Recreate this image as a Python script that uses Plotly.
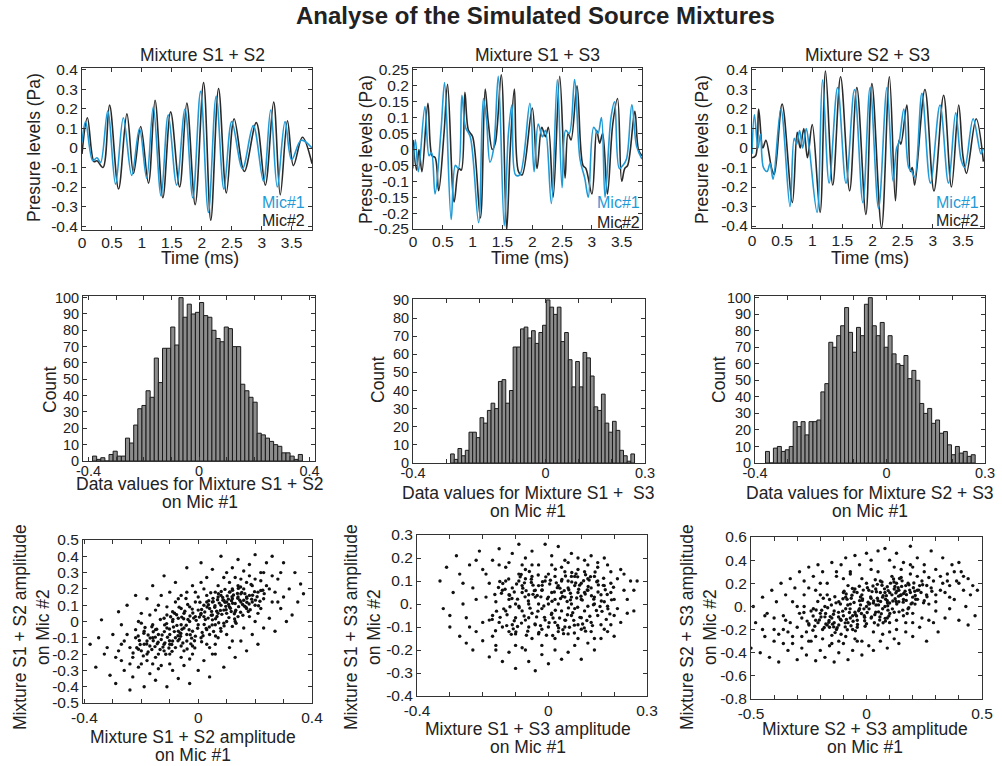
import plotly.graph_objects as go

W, H = 1002, 766
FONT = "Liberation Sans, Arial, sans-serif"
BLUE = "#1f9ad6"
DARK = "#222222"

# ---------------- Data ----------------
main_title = "Analyse of the Simulated Source Mixtures"
mixture_names = ["Mixture S1 + S2", "Mixture S1 + S3", "Mixture S2 + S3"]

# Waveforms (time in ms, pressure in Pa): extrema
t_s12_mic1 = [0.0, 0.06, 0.18, 0.25, 0.31, 0.43, 0.56, 0.69, 0.83, 0.96, 1.08, 1.19, 1.32, 1.44, 1.58, 1.72, 1.85, 1.98, 2.11, 2.24, 2.37, 2.5, 2.68, 2.86, 3.03, 3.15, 3.26, 3.39, 3.5, 3.66, 3.84]
p_s12_mic1 = [0.03, 0.135, -0.065, -0.05, -0.075, 0.19, -0.185, 0.155, -0.14, 0.1, -0.155, 0.21, -0.245, 0.17, -0.19, 0.2, -0.255, 0.29, -0.33, 0.265, -0.21, 0.135, -0.105, 0.115, -0.17, 0.195, -0.2, 0.135, -0.06, 0.04, 0.0]
t_s12_mic2 = [0.0, 0.09, 0.2, 0.25, 0.35, 0.46, 0.61, 0.75, 0.86, 0.98, 1.11, 1.22, 1.35, 1.48, 1.63, 1.75, 1.89, 2.03, 2.15, 2.28, 2.41, 2.54, 2.71, 2.91, 3.06, 3.2, 3.31, 3.43, 3.53, 3.68, 3.84]
p_s12_mic2 = [-0.03, 0.155, -0.07, -0.065, -0.1, 0.22, -0.21, 0.175, -0.13, 0.11, -0.18, 0.245, -0.255, 0.185, -0.2, 0.23, -0.29, 0.335, -0.37, 0.305, -0.23, 0.15, -0.12, 0.13, -0.19, 0.235, -0.24, 0.14, -0.09, 0.055, -0.08]

t_s13_mic1 = [0.0, 0.04, 0.09, 0.2, 0.27, 0.31, 0.37, 0.47, 0.53, 0.64, 0.71, 0.76, 0.82, 0.88, 0.96, 1.1, 1.18, 1.23, 1.29, 1.35, 1.43, 1.53, 1.6, 1.66, 1.72, 1.79, 1.96, 2.03, 2.1, 2.17, 2.22, 2.32, 2.42, 2.5, 2.56, 2.62, 2.71, 2.8, 2.88, 2.94, 3.03, 3.1, 3.16, 3.22, 3.32, 3.38, 3.46, 3.52, 3.58, 3.67, 3.75, 3.84]
p_s13_mic1 = [-0.06, 0.03, -0.07, 0.135, -0.02, -0.01, -0.14, 0.06, 0.21, -0.22, -0.05, -0.06, 0.17, 0.07, 0.04, -0.23, 0.16, 0.1, -0.04, 0.0, 0.23, -0.24, 0.05, 0.14, -0.08, -0.08, 0.145, -0.07, 0.08, 0.04, 0.06, -0.17, 0.22, -0.12, 0.06, 0.05, 0.22, -0.03, -0.09, -0.15, 0.07, 0.05, 0.1, -0.15, 0.1, 0.15, -0.06, -0.05, -0.03, 0.14, 0.01, -0.03]
t_s13_mic2 = [0.0, 0.06, 0.1, 0.15, 0.25, 0.32, 0.37, 0.43, 0.52, 0.58, 0.69, 0.77, 0.81, 0.87, 0.93, 1.0, 1.13, 1.21, 1.26, 1.33, 1.38, 1.48, 1.57, 1.63, 1.7, 1.77, 1.83, 2.0, 2.08, 2.16, 2.22, 2.27, 2.35, 2.46, 2.55, 2.6, 2.65, 2.75, 2.85, 2.9, 3.0, 3.08, 3.13, 3.18, 3.26, 3.35, 3.43, 3.5, 3.55, 3.6, 3.72, 3.78, 3.84]
p_s13_mic2 = [0.03, -0.065, 0.0, -0.07, 0.145, -0.02, -0.025, -0.13, 0.05, 0.205, -0.165, -0.06, -0.065, 0.18, 0.06, 0.04, -0.215, 0.19, 0.09, 0.0, 0.02, 0.235, -0.255, 0.0, 0.19, -0.07, -0.08, 0.13, -0.06, 0.07, 0.04, 0.07, -0.15, 0.23, -0.09, 0.05, 0.03, 0.2, -0.05, -0.06, -0.14, 0.06, 0.02, 0.05, -0.14, 0.08, 0.16, -0.1, -0.06, -0.05, 0.12, 0.0, -0.02]

t_s23_mic1 = [0.0, 0.04, 0.1, 0.14, 0.19, 0.25, 0.3, 0.35, 0.48, 0.63, 0.7, 0.74, 0.79, 0.84, 0.9, 0.95, 1.08, 1.17, 1.28, 1.42, 1.56, 1.7, 1.84, 1.96, 2.1, 2.24, 2.34, 2.4, 2.44, 2.52, 2.6, 2.65, 2.7, 2.82, 2.96, 3.12, 3.26, 3.38, 3.47, 3.53, 3.67, 3.8, 3.84]
p_s23_mic1 = [-0.03, 0.17, 0.0, 0.07, -0.1, -0.12, -0.08, -0.16, 0.2, -0.3, 0.05, 0.02, 0.09, 0.0, 0.1, 0.0, -0.33, 0.35, -0.18, 0.31, -0.18, 0.3, -0.28, 0.31, -0.31, 0.31, -0.17, 0.0, 0.03, 0.2, -0.1, -0.12, -0.15, 0.28, -0.18, 0.22, -0.18, 0.18, -0.06, -0.1, 0.15, -0.03, 0.0]
t_s23_mic2 = [0.0, 0.06, 0.11, 0.18, 0.23, 0.33, 0.37, 0.5, 0.67, 0.75, 0.8, 0.86, 0.92, 1.0, 1.13, 1.22, 1.34, 1.47, 1.62, 1.74, 1.89, 1.99, 2.15, 2.28, 2.38, 2.44, 2.47, 2.57, 2.63, 2.66, 2.7, 2.87, 3.02, 3.18, 3.31, 3.43, 3.5, 3.56, 3.72, 3.84]
p_s23_mic2 = [-0.05, -0.04, 0.2, 0.0, 0.04, -0.11, -0.135, 0.225, -0.28, 0.08, 0.0, 0.1, -0.05, 0.12, -0.33, 0.395, -0.19, 0.365, -0.22, 0.31, -0.34, 0.33, -0.41, 0.365, -0.27, 0.04, 0.02, 0.22, -0.12, -0.1, -0.19, 0.3, -0.22, 0.27, -0.2, 0.22, -0.04, -0.13, 0.15, -0.07]

# Histograms of Mic #1 values: first bin centre, bin width, counts
hist_s12_start, hist_s12_width = -0.378, 0.0149
hist_s12_counts = [3, 1, 2, 0, 4, 6, 3, 3, 14, 11, 22, 32, 34, 43, 39, 63, 48, 69, 69, 82, 71, 100, 88, 96, 90, 91, 97, 89, 88, 80, 75, 73, 82, 81, 70, 70, 47, 43, 39, 36, 17, 16, 14, 12, 10, 9, 5, 5, 3, 1, 4]
hist_s13_start, hist_s13_width = -0.281, 0.0111
hist_s13_counts = [5, 2, 8, 4, 7, 17, 17, 14, 25, 22, 29, 33, 30, 45, 46, 33, 40, 64, 64, 74, 75, 69, 73, 66, 72, 76, 90, 86, 82, 86, 67, 72, 57, 42, 56, 42, 61, 58, 48, 31, 29, 38, 22, 17, 23, 18, 7, 4, 1, 5]
hist_s23_start, hist_s23_width = -0.362, 0.01204
hist_s23_counts = [7, 0, 9, 10, 7, 8, 10, 25, 22, 25, 17, 25, 25, 26, 43, 48, 73, 70, 77, 83, 94, 79, 67, 82, 77, 96, 100, 83, 77, 85, 70, 77, 66, 60, 59, 65, 51, 56, 50, 36, 30, 33, 24, 26, 18, 19, 11, 5, 10, 6, 7, 4, 5]

sc_s12 = [(-0.05,-0.04),(0.02,0.03),(0.08,0.1),(-0.1,-0.08),(0.12,0.14),(-0.02,-0.06),(0.05,0.01),(-0.07,0.02),(0.1,0.05),(0.15,0.12),
(-0.12,-0.14),(-0.15,-0.05),(0.0,0.07),(0.03,-0.05),(0.07,0.15),(-0.04,-0.12),(0.13,0.06),(-0.09,0.0),(0.18,0.16),(-0.18,-0.12),
(0.06,-0.02),(-0.01,0.12),(0.11,0.18),(-0.06,-0.15),(0.2,0.1),(-0.2,-0.18),(0.04,0.08),(-0.03,0.0),(0.09,-0.01),(-0.11,0.04),
(0.16,0.2),(-0.14,-0.2),(0.01,-0.1),(0.14,0.03),(-0.08,-0.1),(0.07,0.05),(-0.16,-0.02),(0.21,0.18),(-0.22,-0.1),(0.0,-0.02),
(0.1,0.12),(-0.05,0.05),(0.12,-0.03),(-0.13,-0.11),(0.17,0.08),(0.03,0.16),(-0.1,-0.2),(0.05,0.12),(-0.02,-0.15),(0.19,0.22),
(-0.19,-0.06),(0.08,-0.06),(-0.06,0.08),(0.15,0.17),(-0.07,-0.06),(0.11,0.09),(-0.17,-0.15),(0.02,0.1),(-0.01,0.03),(0.23,0.14),
(-0.24,-0.16),(0.06,0.18),(-0.04,-0.08),(0.13,0.11),(-0.12,0.02),(0.09,0.13),(-0.08,-0.16),(0.04,-0.08),(0.18,0.03),(-0.15,-0.22),
(0.25,0.2),(-0.23,-0.22),(0.0,0.15),(0.1,0.0),(-0.09,-0.12),(0.14,0.15),(-0.03,0.09),(0.07,-0.1),(-0.2,-0.01),(0.2,0.26),
(-0.11,-0.04),(0.16,0.13),(0.01,0.05),(-0.06,-0.02),(0.12,0.2),(-0.14,-0.08),(0.05,0.04),(-0.01,-0.09),(0.22,0.08),(-0.25,-0.08),
(0.03,0.12),(-0.05,-0.18),(0.08,0.16),(-0.1,-0.14),(0.17,0.24),(0.13,0.0),(-0.18,-0.24),(0.26,0.12),(-0.16,-0.1),(0.09,0.07),
(-0.38,-0.14),(-0.36,-0.28),(-0.34,0.01),(-0.33,-0.2),(-0.31,-0.33),(-0.3,-0.08),(-0.29,-0.38),(-0.28,0.06),(-0.27,-0.24),(-0.26,-0.3),
(-0.25,0.1),(-0.24,-0.42),(-0.23,-0.34),(-0.22,0.16),(-0.21,-0.28),(-0.2,0.05),(-0.19,-0.4),(-0.18,0.14),(-0.17,-0.32),(-0.16,0.22),
(-0.15,-0.36),(-0.14,0.1),(-0.13,-0.27),(-0.12,0.28),(-0.11,-0.4),(-0.1,0.18),(-0.09,-0.3),(-0.08,0.24),(-0.07,-0.35),(-0.06,0.16),
(-0.05,-0.27),(-0.04,0.33),(-0.03,-0.38),(-0.02,0.22),(0.0,-0.3),(0.01,0.36),(0.02,-0.24),(0.03,0.27),(0.04,-0.34),(0.05,0.32),
(0.06,-0.2),(0.08,0.4),(0.09,-0.28),(0.1,0.3),(0.11,-0.16),(0.12,0.33),(0.13,-0.22),(0.14,0.38),(0.15,-0.12),(0.16,0.31),
(0.17,-0.18),(0.18,0.35),(0.19,-0.08),(0.2,0.41),(0.21,-0.14),(0.22,0.3),(0.23,-0.04),(0.24,0.36),(0.25,0.02),(0.26,0.4),
(0.27,-0.06),(0.28,0.26),(0.29,0.08),(0.3,0.36),(0.31,0.0),(0.32,0.2),(0.33,0.04),(0.34,0.3),(0.35,0.12),(0.36,0.23),
(0.37,0.17),(-0.35,-0.1),(-0.32,-0.16),(0.29,0.3),(-0.27,-0.02),(0.3,0.15),(-0.21,-0.17),(0.24,0.22),(-0.28,-0.18),(0.27,0.18),
(-0.2,-0.26),(0.19,0.12),(-0.26,-0.12),(0.22,0.25),(-0.17,0.04),(0.16,-0.04),(-0.13,0.16),(0.12,-0.12),(-0.21,0.0),(0.2,0.0),
(-0.08,0.12),(0.06,-0.14),(-0.14,-0.29),(0.15,0.26),(-0.11,0.09),(0.1,-0.08),(-0.19,-0.14),(0.18,0.28),(-0.02,-0.2),(0.02,0.2),
(-0.24,-0.26),(0.23,0.3),(-0.07,0.14),(0.04,-0.16),(-0.16,-0.26),(0.17,0.15),(-0.12,-0.18),(0.11,0.24),(-0.03,-0.23),(0.01,0.24),
(-0.09,0.06),(0.07,0.22),(-0.22,-0.05),(0.21,0.05),(-0.04,0.18),(0.05,-0.2),(-0.15,0.07),(0.14,0.22),(-0.18,-0.2),(0.26,0.28),
(-0.29,-0.22),(0.28,0.12),(-0.1,-0.26),(0.09,0.27),(-0.06,-0.22),(0.03,-0.14),(-0.01,0.18),(0.13,0.27),(-0.27,-0.14),(0.22,0.19),
(-0.032,-0.051),(0.047,0.062),(0.113,0.081),(-0.087,-0.034),(0.021,-0.018),(0.163,0.094),(-0.141,-0.127),(0.074,0.113),(-0.058,0.027),(0.138,0.172),
(-0.176,-0.083),(0.009,0.041),(0.091,-0.027),(-0.119,-0.062),(0.052,0.142),(-0.023,-0.102),(0.188,0.137),(-0.204,-0.141),(0.066,0.031),(-0.071,-0.118),
(0.127,0.048),(-0.047,0.063),(0.031,0.089),(0.102,0.157),(-0.133,0.012),(0.176,0.061),(-0.092,-0.183),(0.014,-0.067),(0.149,0.212),(-0.163,-0.172),
(0.083,0.044),(-0.016,0.021),(0.117,0.128),(-0.108,-0.097),(0.039,-0.034),(0.198,0.183),(-0.187,-0.037),(0.058,0.087),(-0.064,-0.071),(0.142,0.091),
(-0.037,0.104),(0.094,0.197),(-0.152,-0.154),(0.006,0.118),(0.171,0.143),(-0.211,-0.089),(0.079,-0.042),(-0.083,0.051),(0.128,0.016),(-0.026,-0.137),
(0.217,0.124),(-0.124,-0.157),(0.044,0.176),(-0.002,-0.041),(0.157,0.038),(-0.169,-0.101),(0.107,0.104),(-0.054,-0.132),(0.068,0.133),(-0.097,0.029),
(0.186,0.227),(-0.229,-0.193),(0.025,0.012),(0.133,-0.011),(-0.146,-0.048),(0.071,0.171),(-0.012,-0.162),(0.098,0.072),(-0.075,-0.024),(0.232,0.171),
(-0.193,-0.211),(0.054,-0.061),(-0.043,0.141),(0.121,0.192),(-0.114,-0.201),(0.179,0.107),(-0.067,0.088),(0.012,-0.124),(0.146,0.131),(-0.158,-0.063),
(0.086,0.148),(-0.029,0.034),(0.061,-0.089),(-0.181,-0.138),(0.207,0.152),(-0.101,-0.046),(0.037,0.127),(0.116,0.061),(-0.062,-0.091),(0.153,0.178),
(0.035,0.021),(-0.061,-0.073),(0.094,0.118),(-0.118,-0.021),(0.156,0.104),(-0.019,0.052),(0.072,-0.008),(-0.093,-0.141),(0.124,0.163),(-0.151,-0.096),
(0.012,0.074),(0.183,0.072),(-0.042,-0.023),(0.059,0.097),(-0.134,-0.172),(0.108,0.024),(-0.076,0.041),(0.141,0.203),(-0.207,-0.117),(0.028,-0.043),
(0.087,0.131),(-0.028,-0.081),(0.201,0.131),(-0.101,-0.118),(0.046,0.038),(-0.163,-0.032),(0.119,0.152),(-0.007,0.007),(0.164,0.171),(-0.084,-0.062),
(0.065,0.063),(-0.051,0.017),(0.132,0.069),(-0.176,-0.187),(0.017,-0.087),(0.097,0.093),(-0.111,-0.013),(0.227,0.192),(-0.039,-0.169),(0.053,0.122),
(-0.144,-0.137),(0.171,0.118),(0.004,0.027),(-0.066,-0.108),(0.112,0.182),(-0.191,-0.072),(0.078,0.068),(-0.021,0.076),(0.149,0.057),(-0.127,-0.083),
(0.036,0.103),(-0.057,-0.048),(0.191,0.161),(-0.089,0.012),(0.121,0.112),(-0.216,-0.161),(0.061,0.017),(-0.013,-0.118),(0.139,0.142),(-0.103,-0.163),
(0.081,0.184),(-0.036,0.012),(0.168,0.087),(-0.158,-0.118),(0.023,0.058),(0.106,0.137),(-0.071,-0.087),(0.212,0.097),(-0.117,-0.131),(0.049,-0.021)]

sc_s13 = [(0.0,0.0),(0.05,0.03),(-0.05,-0.04),(0.1,0.02),(-0.08,0.05),(0.02,-0.08),(0.07,-0.05),(-0.03,0.08),(0.12,0.06),(-0.1,-0.06),
(0.04,0.1),(-0.06,-0.1),(0.09,-0.09),(-0.12,0.02),(0.14,0.0),(0.01,0.05),(-0.02,-0.02),(0.06,0.07),(-0.07,0.11),(0.11,-0.03),
(0.03,-0.12),(-0.09,-0.01),(0.08,0.12),(-0.04,0.03),(0.13,-0.08),(-0.11,-0.09),(0.0,0.13),(0.16,0.04),(-0.14,0.06),(0.05,-0.1),
(-0.01,-0.07),(0.1,0.09),(-0.06,0.0),(0.02,0.02),(0.15,-0.05),(-0.13,-0.03),(0.07,0.0),(-0.03,-0.13),(0.12,0.11),(-0.08,0.08),
(0.04,-0.03),(-0.05,0.12),(0.09,0.05),(-0.1,0.0),(0.17,0.08),(-0.02,0.06),(0.06,-0.13),(-0.07,-0.07),(0.11,0.14),(0.01,-0.04),
(-0.15,-0.08),(0.14,0.03),(-0.04,-0.09),(0.08,-0.02),(-0.09,0.1),(0.03,0.08),(0.18,-0.01),(-0.12,-0.12),(0.0,-0.1),(0.05,0.14),
(-0.06,0.04),(0.13,0.07),(-0.16,0.01),(0.1,-0.11),(-0.01,0.1),(0.07,0.03),(-0.11,0.07),(0.02,-0.15),(0.19,0.05),(-0.03,0.0),
(0.06,0.1),(-0.08,-0.03),(0.15,0.1),(-0.13,0.1),(0.04,0.05),(-0.05,-0.15),(0.12,-0.01),(0.09,0.15),(-0.02,-0.11),(0.2,0.02),
(-0.17,-0.05),(0.16,-0.09),(-0.07,0.15),(0.03,0.0),(0.11,0.05),(-0.1,-0.13),(0.08,0.08),(-0.04,0.06),(0.14,0.12),(0.0,0.03),
(-0.14,-0.1),(0.05,-0.07),(-0.09,0.13),(0.17,0.01),(0.02,0.12),(-0.06,-0.06),(0.1,-0.06),(-0.12,0.04),(0.07,0.12),(0.13,-0.12),
(-0.33,0.1),(-0.32,-0.02),(-0.31,0.16),(-0.3,-0.1),(-0.29,0.05),(-0.28,0.21),(-0.27,-0.14),(-0.26,0.09),(-0.25,-0.06),(-0.24,0.17),
(-0.23,-0.2),(-0.22,0.02),(-0.21,0.23),(-0.2,-0.16),(-0.19,0.13),(-0.18,-0.23),(-0.17,0.19),(-0.16,-0.18),(-0.15,0.24),(-0.14,-0.25),
(-0.13,0.16),(-0.12,-0.21),(-0.11,0.22),(-0.1,-0.28),(-0.09,0.26),(-0.08,-0.19),(-0.07,0.2),(-0.06,-0.25),(-0.05,0.23),(-0.04,-0.29),
(-0.03,0.17),(-0.02,-0.22),(-0.01,0.26),(0.0,-0.26),(0.01,0.21),(0.02,-0.2),(0.03,0.25),(0.04,-0.24),(0.05,0.19),(0.06,-0.21),
(0.07,0.22),(0.08,-0.18),(0.09,0.2),(0.1,-0.24),(0.11,0.19),(0.12,-0.17),(0.13,0.21),(0.14,-0.2),(0.15,0.18),(0.16,-0.15),
(0.17,0.2),(0.18,-0.12),(0.19,0.14),(0.2,-0.14),(0.21,0.11),(0.22,-0.08),(0.23,0.13),(0.24,-0.04),(0.25,0.1),(0.26,-0.03),
(0.27,0.1),(0.26,0.06),(0.24,0.02),(-0.3,-0.05),(-0.27,0.13),(-0.25,-0.17),(-0.22,0.19),(-0.2,-0.08),(-0.18,0.09),(-0.24,-0.1),
(0.22,0.15),(0.2,-0.05),(0.18,0.17),(0.19,-0.09),(0.23,0.06),(-0.2,0.15),(-0.17,-0.14),(-0.19,0.03),(-0.15,0.17),(-0.16,-0.2),
(-0.26,0.0),(-0.23,0.07),(0.21,-0.02),(0.17,-0.11),(0.15,0.16),(-0.12,0.18),(-0.1,-0.18),(0.12,0.17),(-0.07,-0.2),(0.06,0.18),
(-0.02,-0.18),(0.01,0.17),(0.09,-0.15),(-0.05,0.17),(-0.22,-0.12),(-0.18,-0.07),(0.14,-0.15),(-0.08,0.17),(0.04,0.16),(0.19,0.09),
(-0.023,0.031),(0.061,-0.017),(0.112,0.043),(-0.074,-0.052),(0.027,0.071),(-0.118,0.038),(0.146,-0.028),(0.083,0.091),(-0.041,-0.087),(0.009,-0.046),
(0.173,0.062),(-0.097,0.087),(0.052,-0.071),(-0.136,-0.021),(0.124,0.104),(-0.008,0.118),(0.096,-0.058),(-0.061,0.013),(0.037,0.024),(-0.152,0.072),
(0.161,0.013),(-0.029,-0.124),(0.071,0.137),(-0.107,-0.108),(0.018,0.052),(0.134,-0.094),(-0.083,0.128),(0.044,-0.112),(-0.014,-0.009),(0.187,-0.043),
(-0.171,-0.067),(0.103,0.017),(-0.052,0.094),(0.067,0.047),(-0.121,0.109),(0.152,0.083),(-0.036,-0.056),(0.028,-0.093),(0.117,-0.072),(-0.089,-0.016),
(0.004,0.087),(0.079,-0.126),(-0.143,0.047),(0.168,0.112),(-0.067,-0.136),(0.041,0.107),(-0.019,0.061),(0.131,0.036),(-0.104,-0.073),(0.089,0.118),
(-0.047,0.042),(0.013,-0.137),(0.198,0.073),(-0.161,-0.116),(0.057,0.011),(-0.078,0.069),(0.109,-0.104),(-0.003,0.023),(0.142,0.139),(-0.126,-0.047),
(0.034,-0.061),(-0.058,0.141),(0.092,0.064),(-0.094,-0.098),(0.176,-0.067),(0.021,0.151),(-0.032,-0.031),(0.064,-0.101),(-0.148,0.098),(0.121,0.076),
(-0.071,0.031),(0.048,0.058),(-0.113,-0.132),(0.157,-0.011),(0.002,-0.081),(0.086,0.026),(-0.132,0.064),(0.113,0.127),(-0.018,0.097),(0.074,-0.038),
(0.011,0.012),(-0.043,0.058),(0.077,-0.071),(0.138,0.021),(-0.104,0.052),(0.052,0.122),(-0.012,-0.058),(0.095,0.082),(-0.082,-0.083),(0.163,-0.032),
(-0.139,0.089),(0.031,-0.104),(0.118,0.061),(-0.063,-0.118),(0.006,0.103),(0.147,0.097),(-0.117,-0.012),(0.067,0.018),(-0.031,0.126),(0.104,-0.087),
(-0.158,-0.031),(0.043,0.033),(0.179,0.041),(-0.073,0.092),(0.021,-0.027),(0.126,-0.053),(-0.094,0.021),(0.084,0.131),(-0.024,-0.094),(0.151,0.052),
(-0.127,-0.094),(0.058,-0.047),(-0.047,0.082),(0.099,0.034),(-0.006,-0.136),(0.192,0.018),(-0.086,0.118),(0.035,0.069),(0.113,-0.118),(-0.056,-0.018),
(0.071,0.096),(-0.111,0.024),(0.167,0.081),(0.014,-0.061),(-0.034,0.037),(0.128,0.119),(-0.147,-0.058),(0.089,-0.014),(-0.068,0.058),(0.046,-0.129),
(0.137,-0.003),(-0.019,0.081),(0.062,0.062),(-0.099,-0.121),(0.181,-0.021),(-0.052,0.108),(0.024,0.092),(0.107,0.101),(-0.163,0.041),(0.079,-0.092)]

sc_s23 = [(0.0,0.0),(0.05,0.05),(-0.05,-0.05),(0.1,0.03),(-0.1,-0.08),(0.15,0.1),(-0.15,-0.1),(0.02,-0.1),(-0.02,0.1),(0.08,0.12),
(-0.08,-0.14),(0.2,0.08),(-0.2,-0.06),(0.12,-0.05),(-0.12,0.04),(0.04,0.15),(-0.04,-0.18),(0.17,0.18),(-0.17,-0.16),(0.07,-0.02),
(-0.07,0.02),(0.22,0.14),(-0.22,-0.12),(0.0,-0.15),(0.01,0.14),(0.13,0.2),(-0.13,-0.2),(0.09,-0.1),(-0.09,0.08),(0.25,0.05),
(-0.25,-0.15),(0.03,0.03),(-0.03,-0.02),(0.18,-0.02),(-0.18,0.0),(0.11,0.1),(-0.11,-0.12),(0.06,0.22),(-0.06,-0.2),(0.14,0.04),
(-0.14,-0.04),(0.28,0.16),(-0.28,-0.1),(0.09,0.17),(-0.09,-0.02),(0.19,0.12),(-0.19,-0.2),(0.02,0.07),(-0.01,-0.08),(0.16,-0.08),
(-0.16,0.06),(0.24,0.22),(-0.24,-0.04),(0.05,-0.16),(-0.05,0.15),(0.12,0.15),(-0.12,-0.16),(0.3,0.1),(-0.3,-0.18),(0.07,0.08),
(-0.07,-0.1),(0.21,0.02),(-0.21,-0.14),(0.0,0.2),(0.04,-0.05),(0.15,0.25),(-0.15,-0.25),(0.1,-0.14),(-0.1,0.12),(0.26,0.1),
(-0.26,-0.22),(0.08,0.0),(-0.03,0.05),(0.18,0.2),(-0.18,-0.09),(0.13,-0.12),(-0.08,0.18),(0.33,0.2),(-0.33,-0.14),(0.06,0.12),
(-0.06,-0.08),(0.2,-0.06),(-0.2,0.1),(0.11,0.26),(-0.11,-0.24),(0.23,0.18),(-0.23,-0.02),(0.03,-0.22),(-0.02,0.24),(0.16,0.06),
(-0.14,-0.14),(0.27,0.25),(-0.27,0.0),(0.09,0.05),(-0.04,-0.12),(0.14,0.14),(-0.16,-0.18),(0.19,0.28),(-0.09,-0.26),(0.01,0.02),
(-0.55,-0.3),(-0.53,-0.04),(-0.52,-0.22),(-0.5,-0.36),(-0.49,0.0),(-0.48,-0.14),(-0.46,-0.4),(-0.45,0.08),(-0.44,-0.26),(-0.43,-0.06),
(-0.42,-0.44),(-0.41,0.14),(-0.4,-0.3),(-0.39,0.04),(-0.38,-0.48),(-0.37,0.2),(-0.36,-0.2),(-0.35,0.1),(-0.34,-0.38),(-0.33,0.24),
(-0.32,-0.32),(-0.31,0.16),(-0.3,-0.46),(-0.29,0.3),(-0.28,-0.36),(-0.27,0.22),(-0.26,-0.42),(-0.25,0.34),(-0.24,-0.3),(-0.23,0.26),
(-0.22,-0.47),(-0.21,0.36),(-0.2,-0.38),(-0.19,0.3),(-0.18,-0.44),(-0.17,0.2),(-0.16,-0.34),(-0.15,0.38),(-0.14,-0.48),(-0.13,0.3),
(-0.12,-0.4),(-0.11,0.36),(-0.1,-0.32),(-0.09,0.42),(-0.08,-0.46),(-0.07,0.28),(-0.06,-0.38),(-0.05,0.44),(-0.04,-0.3),(-0.03,0.36),
(-0.02,-0.42),(0.0,0.46),(0.01,-0.34),(0.02,0.4),(0.03,-0.38),(0.05,0.48),(0.06,-0.3),(0.08,0.5),(0.09,-0.36),(0.1,0.4),
(0.12,-0.28),(0.13,0.46),(0.14,-0.32),(0.16,0.38),(0.17,-0.22),(0.19,0.52),(0.2,-0.26),(0.22,0.42),(0.23,-0.18),(0.25,0.36),
(0.26,-0.3),(0.28,0.48),(0.29,-0.14),(0.3,0.32),(0.31,-0.22),(0.33,0.42),(0.34,-0.1),(0.35,0.28),(0.36,-0.02),(0.37,0.36),
(0.38,0.06),(0.39,0.22),(0.4,-0.12),(0.41,0.3),(0.42,0.14),(0.43,0.0),(0.44,0.24),(0.45,0.1),(0.46,0.18),(0.47,-0.08),
(0.48,0.14),(0.44,-0.16),(0.4,0.38),(0.34,0.12),(0.3,-0.04),(-0.45,-0.2),(-0.4,-0.1),(-0.36,-0.08),(-0.32,0.04),(-0.38,-0.24),
(0.36,0.18),(0.32,0.26),(0.27,0.02),(-0.28,-0.26),(-0.34,-0.22),(0.24,-0.1),(-0.22,0.14),(0.2,0.34),(-0.25,0.16),(0.38,0.3),
(-0.35,-0.12),(0.35,0.22),(-0.3,0.0),(0.3,0.04),(-0.25,-0.3),(0.25,0.3),(-0.2,0.2),(0.2,-0.14),(-0.15,-0.32),(0.15,0.32),
(-0.1,0.24),(0.1,-0.22),(-0.05,-0.28),(0.05,0.3),(-0.4,-0.2),(0.4,0.2),(-0.32,-0.26),(0.32,0.14),(-0.27,0.1),(0.27,-0.12),
(-0.22,-0.26),(0.22,0.26),(-0.17,0.1),(0.17,-0.14),(-0.12,-0.3),(0.12,0.34),(-0.07,0.3),(0.07,-0.24),(-0.02,-0.3),(0.02,0.32),
(-0.44,-0.08),(0.42,0.26),(-0.36,-0.32),(0.36,0.08),(-0.29,-0.06),(0.29,0.22),(-0.19,-0.28),(0.19,0.36),(-0.13,0.26),(0.13,-0.2),
(-0.032,-0.028),(0.061,0.043),(0.124,0.067),(-0.087,-0.113),(0.018,0.082),(-0.143,-0.067),(0.187,0.141),(-0.054,0.034),(0.093,-0.032),(-0.176,-0.152),
(0.036,-0.071),(0.152,0.173),(-0.113,0.021),(0.211,0.094),(-0.008,-0.124),(0.078,0.152),(-0.231,-0.083),(0.131,0.021),(-0.067,-0.167),(0.007,0.037),
(0.172,0.052),(-0.194,-0.033),(0.104,0.201),(-0.041,0.121),(0.057,-0.118),(-0.127,-0.184),(0.243,0.187),(-0.084,0.061),(0.141,-0.047),(-0.022,-0.061),
(0.028,0.176),(-0.162,-0.121),(0.198,0.031),(-0.103,-0.041),(0.086,0.093),(-0.257,-0.127),(0.064,-0.063),(0.161,0.112),(-0.048,-0.211),(0.117,0.237),
(-0.211,0.043),(0.011,-0.021),(0.226,0.141),(-0.137,0.084),(0.043,0.127),(-0.074,-0.052),(0.183,-0.012),(-0.017,0.064),(0.097,-0.083),(-0.183,-0.182),
(0.131,0.131),(-0.092,-0.142),(0.052,0.013),(-0.152,0.012),(0.262,0.083),(-0.031,0.174),(0.072,-0.141),(-0.121,-0.092),(0.154,0.221),(-0.006,-0.171),
(0.114,0.047),(-0.063,0.097),(0.205,0.203),(-0.224,-0.171),(0.022,-0.092),(0.139,0.089),(-0.097,0.132),(0.067,0.211),(-0.043,-0.082),(0.176,-0.061),
(-0.168,-0.011),(0.092,0.006),(-0.014,0.141),(0.247,0.031),(-0.136,-0.226),(0.047,0.071),(-0.083,-0.201),(0.123,0.172),(0.003,-0.052),(-0.061,0.156),
(0.213,0.062),(-0.271,-0.052),(0.081,-0.103),(-0.187,0.071),(0.159,0.037),(-0.026,0.013),(0.101,0.119),(-0.147,-0.153),(0.038,0.231),(0.283,0.131),
(0.014,0.023),(-0.047,-0.071),(0.083,0.062),(-0.121,-0.051),(0.167,0.131),(-0.026,0.082),(0.052,-0.047),(-0.163,-0.137),(0.128,0.043),(-0.081,0.012),
(0.203,0.162),(-0.008,-0.093),(0.094,0.137),(-0.197,-0.092),(0.041,0.012),(-0.058,-0.128),(0.147,0.097),(-0.102,0.067),(0.236,0.121),(-0.034,-0.038),
(0.067,0.183),(-0.142,-0.177),(0.112,-0.021),(-0.218,-0.031),(0.024,0.128),(0.184,0.187),(-0.071,-0.021),(0.137,0.162),(-0.249,-0.161),(0.058,-0.091),
(-0.018,0.052),(0.157,-0.032),(-0.113,-0.111),(0.091,0.031),(-0.054,0.127),(0.221,0.061),(-0.177,-0.061),(0.034,-0.141),(0.119,0.211),(-0.092,-0.177),
(0.004,0.161),(0.173,0.102),(-0.132,0.031),(0.072,0.092),(-0.039,-0.156),(0.261,0.181),(-0.204,-0.117),(0.101,-0.061),(-0.066,0.071),(0.143,0.241),
(0.031,0.048),(-0.157,-0.088),(0.193,0.022),(-0.011,-0.021),(0.082,-0.127),(-0.088,0.108),(0.127,0.117),(-0.232,-0.206),(0.047,0.191),(0.209,0.131)]

# Tick labels
time_ticks = [0, 0.5, 1, 1.5, 2, 2.5, 3, 3.5]
time_ticktext = ["0", "0.5", "1", "1.5", "2", "2.5", "3", "3.5"]
p04_ticks = [-0.4, -0.3, -0.2, -0.1, 0, 0.1, 0.2, 0.3, 0.4]
p04_text = ["-0.4", "-0.3", "-0.2", "-0.1", "0", "0.1", "0.2", "0.3", "0.4"]
p025_ticks = [-0.25, -0.2, -0.15, -0.1, -0.05, 0, 0.05, 0.1, 0.15, 0.2, 0.25]
p025_text = ["-0.25", "-0.2", "-0.15", "-0.1", "-0.05", "0", "0.05", "0.1", "0.15", "0.2", "0.25"]
count_ticks_100 = [0, 10, 20, 30, 40, 50, 60, 70, 80, 90, 100]
count_ticks_90 = [0, 10, 20, 30, 40, 50, 60, 70, 80, 90]
hx_ticks_a = [-0.4, -0.3, -0.2, -0.1, 0, 0.1, 0.2, 0.3, 0.4]
hx_text_a = ["-0.4", "", "", "", "0", "", "", "", "0.4"]
hx_ticks_b = [-0.4, -0.3, -0.2, -0.1, 0, 0.1, 0.2, 0.3]
hx_text_b = ["-0.4", "", "", "", "0", "", "", "0.3"]
sy1_ticks = [-0.5, -0.4, -0.3, -0.2, -0.1, 0, 0.1, 0.2, 0.3, 0.4, 0.5]
sy1_text = ["-0.5", "-0.4", "-0.3", "-0.2", "-0.1", "0", "0.1", "0.2", "0.3", "0.4", "0.5"]
sy2_ticks = [-0.4, -0.3, -0.2, -0.1, 0, 0.1, 0.2, 0.3]
sy2_text = ["-0.4", "-0.3", "-0.2", "-0.1", "0.", "0.1", "0.2", "0.3"]
sx3_ticks = [-0.5, -0.4, -0.3, -0.2, -0.1, 0, 0.1, 0.2, 0.3, 0.4, 0.5]
sx3_text = ["-0.5", "", "", "", "", "0", "", "", "", "", "0.5"]
sy3_ticks = [-0.8, -0.6, -0.4, -0.2, 0, 0.2, 0.4, 0.6]
sy3_text = ["-0.8", "-0.6", "-0.4", "-0.2", "0.", "0.2", "0.4", "0.6"]

# ---------------- Layout helpers (page pixels -> paper fractions) ----------------
def px(x):
    return x / W

def py(y):
    return 1 - y / H

fig = go.Figure()

# panel boxes in page pixels: (left, right, top, bottom)
boxes = [
    (82, 312, 68, 230), (413, 642, 68, 229), (752, 984, 68, 228),
    (83, 315, 296, 461), (413, 645, 299, 463), (755, 985, 296, 463),
    (83, 312, 540, 703), (417, 647, 535, 696), (751, 982, 537, 699),
]
x_ranges = [[0, 3.84], [0, 3.84], [0, 3.85],
            [-0.42, 0.42], [-0.4, 0.3], [-0.4, 0.3],
            [-0.405, 0.4], [-0.4, 0.3], [-0.5, 0.5]]
y_ranges = [[-0.42, 0.41], [-0.25, 0.256], [-0.41, 0.41],
            [0, 101], [0, 90.5], [0, 101],
            [-0.5, 0.5], [-0.4, 0.3], [-0.8, 0.6]]
x_ticks = [(time_ticks, time_ticktext)] * 3 + [(hx_ticks_a, hx_text_a), (hx_ticks_b, hx_text_b), (hx_ticks_b, hx_text_b),
           (hx_ticks_a, hx_text_a), (hx_ticks_b, hx_text_b), (sx3_ticks, sx3_text)]
y_ticks = [(p04_ticks, p04_text), (p025_ticks, p025_text), (p04_ticks, p04_text),
           (count_ticks_100, [str(v) for v in count_ticks_100]),
           (count_ticks_90, [str(v) for v in count_ticks_90]),
           (count_ticks_100, [str(v) for v in count_ticks_100]),
           (sy1_ticks, sy1_text), (sy2_ticks, sy2_text), (sy3_ticks, sy3_text)]
tick_sizes = [15.5, 15.5, 15.5, 14.5, 14.5, 14.5, 15.5, 15.5, 15.5]
x_standoff = [-2, -2, -2, -3, -3, -3, 0, 0, 0]

layout_axes = {}
for i, (l, r, t, b) in enumerate(boxes):
    n = "" if i == 0 else str(i + 1)
    common = dict(showline=True, linecolor="#333333", linewidth=1, mirror="ticks",
                  ticks="inside", ticklen=4, tickwidth=1, tickcolor="#333333",
                  showgrid=False, zeroline=False, automargin=False,
                  tickfont=dict(family=FONT, size=tick_sizes[i], color=DARK))
    tv, tt = x_ticks[i]
    yv, yt = y_ticks[i]
    layout_axes["xaxis" + n] = dict(common, domain=[px(l), px(r)], range=x_ranges[i],
                                    tickvals=tv, ticktext=tt, anchor="y" + n,
                                    ticklabelstandoff=x_standoff[i])
    layout_axes["yaxis" + n] = dict(common, domain=[py(b), py(t)], range=y_ranges[i],
                                    tickvals=yv, ticktext=yt, anchor="x" + n)

# ---------------- Traces ----------------
waves = [
    (t_s12_mic1, p_s12_mic1, t_s12_mic2, p_s12_mic2),
    (t_s13_mic1, p_s13_mic1, t_s13_mic2, p_s13_mic2),
    (t_s23_mic1, p_s23_mic1, t_s23_mic2, p_s23_mic2),
]
for i, (ta, pa, tb, pb) in enumerate(waves):
    ax = "" if i == 0 else str(i + 1)
    fig.add_trace(go.Scatter(x=tb, y=pb, mode="lines", line=dict(color="#2a2a2a", width=1.6, shape="spline", smoothing=1.0),
                             xaxis="x" + ax, yaxis="y" + ax, showlegend=False, hoverinfo="skip"))
    fig.add_trace(go.Scatter(x=ta, y=pa, mode="lines", line=dict(color=BLUE, width=1.6, shape="spline", smoothing=1.0),
                             xaxis="x" + ax, yaxis="y" + ax, showlegend=False, hoverinfo="skip"))

hists = [(hist_s12_start, hist_s12_width, hist_s12_counts),
         (hist_s13_start, hist_s13_width, hist_s13_counts),
         (hist_s23_start, hist_s23_width, hist_s23_counts)]
for i, (start, width, counts) in enumerate(hists):
    ax = str(i + 4)
    centers = [start + k * width for k in range(len(counts))]
    fig.add_trace(go.Bar(x=centers, y=counts, width=width,
                         marker=dict(color="#8c8c8c", line=dict(color="#1a1a1a", width=1)),
                         xaxis="x" + ax, yaxis="y" + ax, showlegend=False, hoverinfo="skip"))

for i, pts in enumerate([sc_s12, sc_s13, sc_s23]):
    ax = str(i + 7)
    fig.add_trace(go.Scatter(x=[p[0] for p in pts], y=[p[1] for p in pts], mode="markers",
                             marker=dict(color="#111111", size=3.4),
                             xaxis="x" + ax, yaxis="y" + ax, showlegend=False, hoverinfo="skip"))

# ---------------- Text ----------------
ann = []
def text(x, y, s, size=17, angle=0, color=DARK, xanchor="center", bold=False):
    ann.append(dict(x=px(x), y=py(y), xref="paper", yref="paper", text=("<b>%s</b>" % s) if bold else s,
                    showarrow=False, textangle=angle, xanchor=xanchor, yanchor="middle",
                    font=dict(family=FONT, size=size, color=color)))

text(535, 16, main_title, size=24, bold=True)

sub_x = [202, 537, 867]
for i in range(3):
    text(sub_x[i], 55, mixture_names[i], size=17.5)
for x, y in [(34, 148), (366, 150), (702, 150)]:
    text(x, y, "Presure levels (Pa)", size=17.5, angle=-90)
for x in [200, 530, 870]:
    text(x, 258, "Time (ms)", size=17.5)
for xr, y1, y2 in [(307, 202, 220), (642, 203, 222), (981, 202, 220)]:
    text(xr, y1, "Mic#1", size=16, color=BLUE, xanchor="right")
    text(xr, y2, "Mic#2", size=16, color=DARK, xanchor="right")

for x, y in [(50, 390), (378, 380), (719, 380)]:
    text(x, y, "Count", size=17.5, angle=-90)
hist_titles = ["Data values for Mixture S1 + S2", "Data values for Mixture S1 +  S3", "Data values for Mixture S2 + S3"]
for (x, y1, y2), s in zip([(200, 484, 502), (528, 493, 511), (870, 493, 511)], hist_titles):
    text(x, y1, s.replace("  ", "&nbsp; "), size=17.5)
    text(x, y2, "on Mic #1", size=17.5)

for i, (x, y) in enumerate([(31, 627), (362, 627), (698, 627)]):
    text(x, y, mixture_names[i] + " amplitude<br>on Mic #2", size=17.5, angle=-90)
for i, (x, y1, y2) in enumerate([(193, 737, 755), (528, 729, 747), (865, 729, 747)]):
    text(x, y1, mixture_names[i] + " amplitude", size=17.5)
    text(x, y2, "on Mic #1", size=17.5)

fig.update_layout(template="none", width=W, height=H, margin=dict(l=0, r=0, t=0, b=0, pad=0),
                  paper_bgcolor="white", plot_bgcolor="white",
                  bargap=0, annotations=ann, hovermode=False, **layout_axes)

fig.write_html("out.html", config={"displayModeBar": False, "staticPlot": True},
               post_script="document.body.style.margin='0'; document.body.style.overflow='hidden';")
